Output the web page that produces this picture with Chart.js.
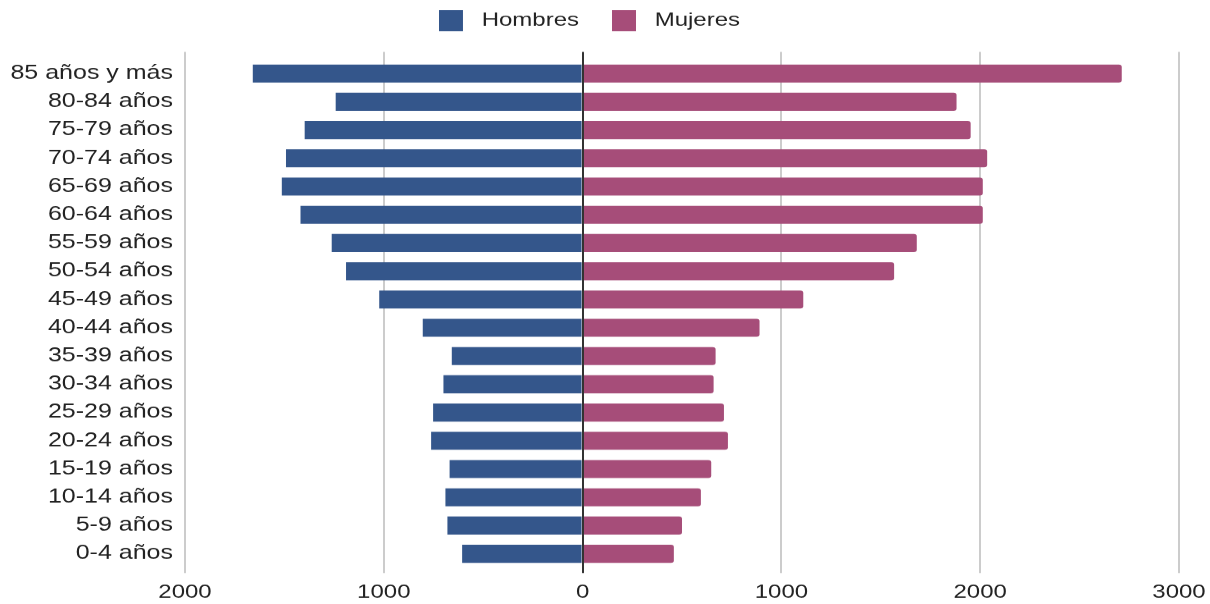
<!DOCTYPE html>
<html lang="es">
<head>
<meta charset="utf-8">
<title>Pirámide de población</title>
<script src="https://cdn.jsdelivr.net/npm/chart.js@4"></script>
<style>
  html, body { margin: 0; padding: 0; background: #fff; overflow: hidden; }
  /* the reference text is slightly flattened, so the chart is drawn taller and squeezed */
  #wrap { width: 1210px; height: 774px; transform: scaleY(0.7804); transform-origin: 0 0; }
</style>
</head>
<body>
<div id="wrap"><canvas id="pyramid" width="1210" height="774"></canvas></div>
<script>
// grupos de edad, de arriba abajo
const ageGroups = [
  "85 años y más", "80-84 años", "75-79 años", "70-74 años", "65-69 años",
  "60-64 años", "55-59 años", "50-54 años", "45-49 años", "40-44 años",
  "35-39 años", "30-34 años", "25-29 años", "20-24 años", "15-19 años",
  "10-14 años", "5-9 años", "0-4 años",
];
const hombres = [1659, 1242, 1398, 1492, 1513, 1419, 1262, 1190, 1023, 804, 658, 700, 752, 762, 669, 690, 680, 606];
const mujeres = [2712, 1881, 1952, 2035, 2013, 2013, 1681, 1567, 1110, 890, 669, 659, 711, 731, 647, 595, 500, 459];
const xMin = -2000;
const xMax = 3000;
const xStep = 1000;

const FONT = "'Liberation Sans', Arial, Helvetica, sans-serif";
const TEXT = "#222";
const GRID = "#cccccc";
const ZERO = "#333333";

Chart.defaults.font.family = FONT;
Chart.defaults.color = TEXT;

const ctx = document.getElementById("pyramid").getContext("2d");
new Chart(ctx, {
  type: "bar",
  data: {
    labels: ageGroups,
    datasets: [
      {
        label: "Hombres",
        data: hombres.map((v) => -v),
        backgroundColor: "#34568b",
        borderWidth: 0,
        barPercentage: 0.637,
        categoryPercentage: 1,
      },
      {
        label: "Mujeres",
        data: mujeres,
        backgroundColor: "#a64d79",
        borderWidth: 0,
        borderRadius: 3,
        barPercentage: 0.637,
        categoryPercentage: 1,
      },
    ],
  },
  options: {
    indexAxis: "y",
    responsive: false,
    animation: false,
    devicePixelRatio: 1,
    layout: { padding: { top: 0, left: 0, right: 31, bottom: -11 } },
    plugins: {
      tooltip: { enabled: false },
      legend: {
        position: "top",
        labels: {
          boxWidth: 24,
          boxHeight: 27,
          padding: 13,
          font: { size: 24 },
          color: TEXT,
          // espacios para separar caja/texto y elementos como en el original
          generateLabels: (chart) => {
            const items = Chart.defaults.plugins.legend.labels.generateLabels(chart);
            return items.map((l, i) => {
              l.text = " " + l.text + (i < items.length - 1 ? "   " : "");
              return l;
            });
          },
        },
      },
    },
    scales: {
      y: {
        type: "category",
        stacked: true,
        grid: { display: false, drawTicks: false },
        border: { display: false },
        ticks: { font: { size: 25 }, color: TEXT, padding: 12, autoSkip: false },
        afterFit: (scale) => { scale.width = 185; },
      },
      x: {
        type: "linear",
        position: "bottom",
        stacked: true,
        min: xMin,
        max: xMax,
        border: { display: false },
        grid: {
          color: (c) => (c.tick && c.tick.value === 0 ? ZERO : GRID),
          tickColor: (c) => (c.tick && c.tick.value === 0 ? ZERO : GRID),
          lineWidth: 2,
          tickWidth: 2,
          tickLength: 6.5,
        },
        ticks: {
          stepSize: xStep,
          font: { size: 24 },
          color: TEXT,
          padding: 11,
          maxRotation: 0,
          callback: (v) => Math.abs(v),
        },
        // el margen derecho lo fija layout.padding
        afterFit: (scale) => { scale.paddingRight = 0; },
      },
      // eje superior: prolonga la rejilla sobre el área y dibuja la línea del 0 encima de las barras
      x2: {
        type: "linear",
        position: "top",
        min: xMin,
        max: xMax,
        border: { display: false },
        title: { display: true, text: "", font: { size: 10 }, padding: { top: 4.6, bottom: 0 } },
        grid: {
          z: 1,
          color: (c) => (c.tick && c.tick.value === 0 ? ZERO : "rgba(0,0,0,0)"),
          tickColor: (c) => (c.tick && c.tick.value === 0 ? ZERO : GRID),
          lineWidth: 2,
          tickWidth: 2,
          tickLength: 9.5,
        },
        ticks: { display: false, stepSize: xStep },
      },
    },
  },
});
</script>
</body>
</html>
